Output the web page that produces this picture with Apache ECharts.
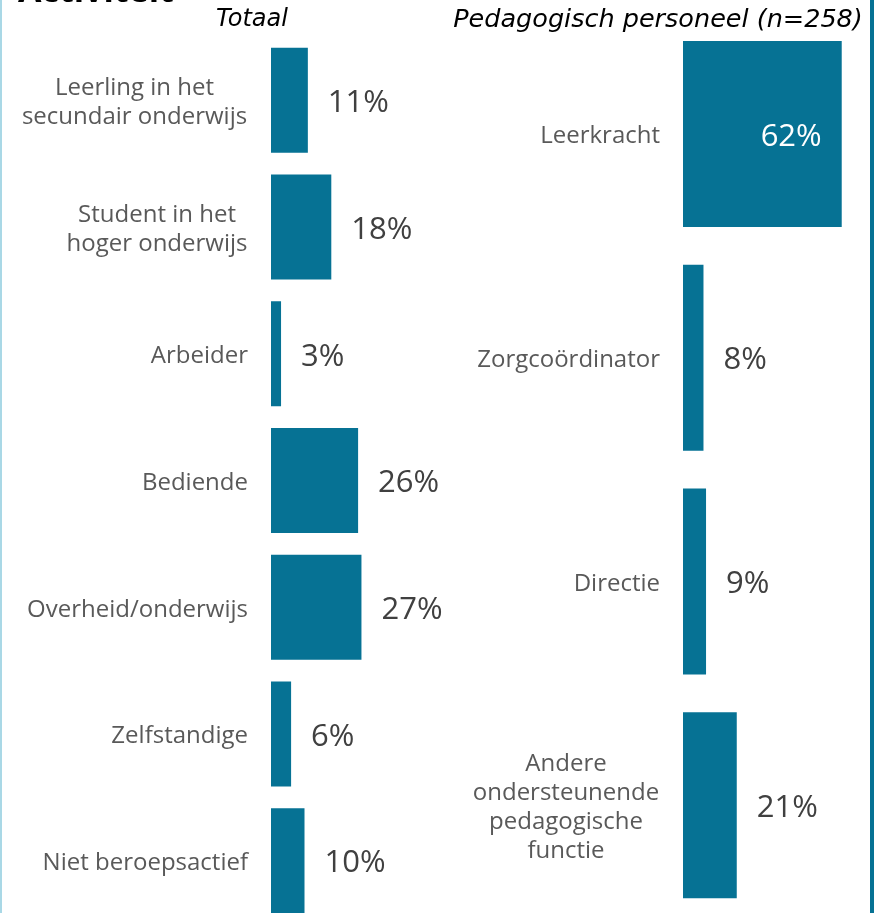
<!DOCTYPE html>
<html>
<head>
<meta charset="utf-8">
<script src="https://cdn.jsdelivr.net/npm/echarts@6/dist/echarts.min.js"></script>
<style>
html,body{margin:0;padding:0;background:#fff;}
#chart{width:886px;height:913px;}
</style>
</head>
<body>
<div id="chart"></div>
<script>
// ---- data ----
const leftTitle = 'Totaal';
const rightTitle = 'Pedagogisch personeel (n=258)';
const mainTitle = 'Activiteit';
const leftCategories = [
  'Leerling in het\nsecundair onderwijs',
  'Student in het\nhoger onderwijs',
  'Arbeider',
  'Bediende',
  'Overheid/onderwijs',
  'Zelfstandige',
  'Niet beroepsactief'
];
const leftValues = [11, 18, 3, 26, 27, 6, 10];
const rightCategories = [
  'Leerkracht',
  'Zorgcoördinator',
  'Directie',
  'Andere\nondersteunende\npedagogische\nfunctie'
];
const rightValues = [62, 8, 9, 21];

// ---- style ----
const BAR = '#067294';
const CAT_COLOR = '#595959';
const VAL_COLOR = '#404040';
const CAT_FONT = 'Open Sans';
const CAT_SIZE = 24;
const CAT_LH = 29;

const ctx = document.createElement('canvas').getContext('2d');
ctx.font = CAT_SIZE + "px '" + CAT_FONT + "'";
function buildRich(cats) {
  const rich = {};
  cats.forEach((c, i) => {
    const lines = c.split('\n');
    const w = Math.max(...lines.map(l => ctx.measureText(l).width));
    rich['m' + i] = {
      width: Math.ceil(w) + 1, align: 'center',
      fontSize: CAT_SIZE, fontFamily: CAT_FONT, color: CAT_COLOR, lineHeight: CAT_LH
    };
  });
  return rich;
}
function fmt(value, index) {
  const lines = value.split('\n');
  if (lines.length === 1) return value;
  return lines.map(l => '{m' + index + '|' + l + '}').join('\n');
}

const chart = echarts.init(document.getElementById('chart'), null, {renderer: 'canvas'});

function yAxisFor(gridIndex, cats) {
  return {
    type: 'category', gridIndex, data: cats, inverse: true,
    axisLine: {show: false}, axisTick: {show: false}, splitLine: {show: false},
    axisLabel: {
      margin: 23, fontSize: CAT_SIZE, fontFamily: CAT_FONT, color: CAT_COLOR,
      lineHeight: CAT_LH, formatter: fmt, rich: buildRich(cats),
      padding: [5, 0, 0, 0]
    }
  };
}
function xAxisFor(gridIndex, max) {
  return {
    type: 'value', gridIndex, min: 0, max,
    show: false, splitLine: {show: false}
  };
}
const valLabel = {
  show: true, position: 'right', distance: 20, offset: [0, 3],
  formatter: p => p.value + '%',
  fontFamily: CAT_FONT, fontSize: 31, color: VAL_COLOR
};

chart.setOption({
  animation: false,
  backgroundColor: '#fff',
  grid: [
    {left: 271, top: 37, width: 134, height: 887, outerBoundsMode: 'none', containLabel: false},
    {left: 683, top: 22, width: 179.2, height: 895, outerBoundsMode: 'none', containLabel: false}
  ],
  xAxis: [xAxisFor(0, 40), xAxisFor(1, 70)],
  yAxis: [yAxisFor(0, leftCategories), yAxisFor(1, rightCategories)],
  series: [
    {
      type: 'bar', xAxisIndex: 0, yAxisIndex: 0, barWidth: 105,
      itemStyle: {color: BAR},
      label: valLabel,
      data: leftValues
    },
    {
      type: 'bar', xAxisIndex: 1, yAxisIndex: 1, barWidth: 186,
      itemStyle: {color: BAR},
      label: valLabel,
      data: rightValues.map((v, i) => i === 0 ? {
        value: v,
        label: {position: 'insideRight', distance: 20, color: '#ffffff'}
      } : v)
    }
  ],
  graphic: [
    {type: 'rect', shape: {x: 0, y: 0, width: 2, height: 913}, style: {fill: '#a9d8e6'}, silent: true},
    {type: 'rect', shape: {x: 870, y: 0, width: 4, height: 913}, style: {fill: BAR}, silent: true},
    {type: 'text', x: 18, y: -8, style: {text: mainTitle, fontFamily: 'Open Sans', fontWeight: 'bold', fontSize: 34, fill: '#000', textVerticalAlign: 'middle'}},
    {type: 'text', x: 252, y: 20, style: {text: leftTitle, fontFamily: 'DejaVu Sans', fontStyle: 'italic', fontSize: 24, fill: '#000', textAlign: 'center', textVerticalAlign: 'middle'}},
    {type: 'text', x: 658, y: 20, style: {text: rightTitle, fontFamily: 'DejaVu Sans', fontStyle: 'italic', fontSize: 25.5, fill: '#000', textAlign: 'center', textVerticalAlign: 'middle'}}
  ]
});
</script>
</body>
</html>
